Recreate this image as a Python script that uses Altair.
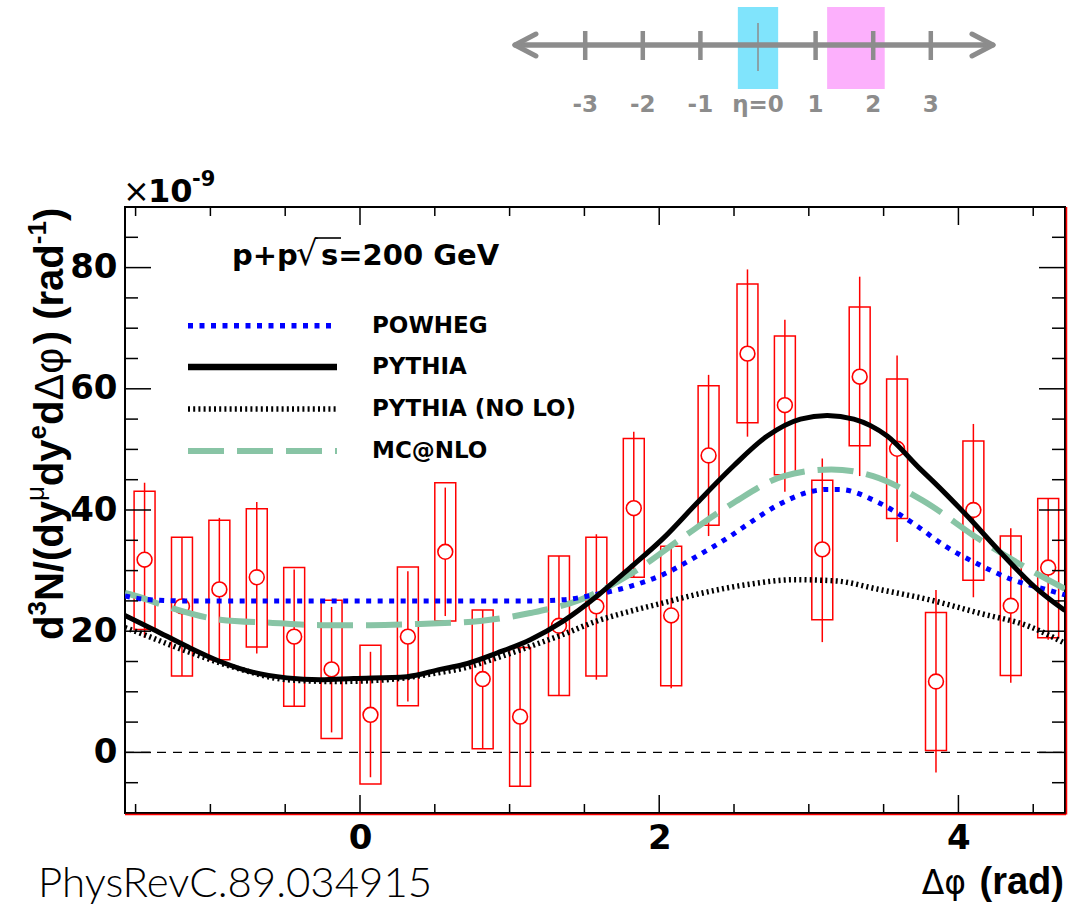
import math
import altair as alt
import pandas as pd

PI = math.pi

# ---------------- data ----------------
phi = [-1.44, -1.19, -0.94, -0.69, -0.44, -0.19, 0.07, 0.32, 0.57, 0.82, 1.07, 1.33, 1.58,
       1.83, 2.08, 2.33, 2.59, 2.84, 3.09, 3.34, 3.59, 3.85, 4.10, 4.35, 4.60]
val = [31.8, 24.1, 26.9, 28.9, 19.1, 13.7, 6.2, 19.1, 33.1, 12.1, 5.9, 20.9, 24.1,
       40.3, 22.6, 49.0, 65.8, 57.3, 33.5, 62.0, 50.1, 11.7, 40.0, 24.2, 30.5]
sys_lo = [20.3, 12.6, 15.3, 17.4, 7.6, 2.3, -5.2, 7.7, 21.7, 0.6, -5.6, 9.4, 12.6,
          28.9, 11.0, 37.5, 54.4, 45.8, 21.9, 50.6, 38.6, 0.3, 28.4, 12.7, 18.9]
sys_hi = [43.1, 35.5, 38.3, 40.2, 30.5, 25.1, 17.7, 30.6, 44.5, 23.5, 17.3, 32.4, 35.5,
          51.8, 34.0, 60.5, 77.3, 68.7, 44.9, 73.5, 61.6, 23.1, 51.4, 35.7, 41.9]
stat_lo = [18.9, 12.6, 15.3, 16.3, 7.6, 3.3, -4.1, 8.4, 22.5, 0.6, -5.6, 9.4, 12.0,
           28.9, 10.6, 35.7, 52.1, 43.0, 18.2, 45.6, 34.7, -3.3, 25.6, 11.5, 18.6]
stat_hi = [44.5, 35.5, 38.7, 41.3, 30.2, 24.0, 16.6, 29.9, 43.7, 23.5, 17.3, 32.4, 36.0,
           52.9, 34.4, 62.3, 79.7, 71.4, 48.5, 78.5, 65.5, 26.8, 54.2, 37.0, 42.0]

pythia_x = [-1.571, -1.381, -1.158, -0.935, -0.712, -0.489, -0.266, -0.043, 0.313, 0.536,
            0.692, 0.916, 1.138, 1.361, 1.585, 1.807, 2.030, 2.254, 2.498, 2.722, 2.944,
            3.123, 3.301, 3.524, 3.747, 3.836, 4.059, 4.282, 4.505, 4.712]
pythia_y = [22.6, 20.3, 17.5, 15.0, 13.2, 12.3, 12.0, 12.2, 12.5, 13.7,
            14.5, 16.4, 18.6, 21.7, 25.8, 30.5, 35.4, 41.2, 47.3, 52.2, 55.0,
            55.6, 55.0, 52.2, 46.7, 44.6, 39.0, 33.0, 27.4, 23.4]

powheg_x = [-1.571, -1.45, -1.2, -0.8, -0.4, 0.0, 0.4, 0.8, 1.138, 1.361, 1.585, 1.807,
            2.030, 2.254, 2.476, 2.577, 2.799, 3.023, 3.123, 3.201, 3.468, 3.692, 3.914,
            4.137, 4.360, 4.583, 4.712]
powheg_y = [25.8, 25.3, 25.0, 25.0, 25.0, 25.0, 25.0, 25.0, 25.0, 25.2, 26.1, 27.4,
            29.4, 32.4, 35.7, 37.4, 40.9, 43.1, 43.4, 43.4, 41.2, 37.9, 34.0,
            31.0, 28.5, 26.9, 26.0]

mcnlo_x = [-1.571, -1.537, -1.27, -0.935, -0.601, -0.266, 0.068, 0.403, 0.804, 1.138,
           1.473, 1.807, 2.141, 2.498, 2.833, 3.15, 3.43, 3.76, 4.137, 4.472, 4.712]
mcnlo_y = [26.3, 26.1, 23.9, 21.9, 21.4, 21.0, 21.0, 21.2, 21.7, 23.0,
           25.2, 29.4, 35.2, 41.2, 45.6, 46.7, 45.6, 41.6, 35.2, 30.2, 27.0]

nolo_x = [-1.571, -1.537, -1.158, -0.823, -0.489, -0.155, 0.18, 0.514, 0.692, 0.916,
          1.138, 1.361, 1.585, 1.807, 2.030, 2.254, 2.588, 2.911, 3.179, 3.468, 3.803,
          4.137, 4.472, 4.712]
nolo_y = [20.6, 20.3, 16.7, 13.9, 12.0, 11.7, 12.0, 13.1, 13.9, 15.6,
          17.5, 19.5, 21.7, 23.3, 24.7, 26.1, 27.7, 28.5, 28.3, 26.9, 25.2,
          23.0, 20.8, 18.0]

x_major = [0, 2, 4]
x_minor = [-1.5, -1.0, -0.5, 0.5, 1.0, 1.5, 2.5, 3.0, 3.5, 4.5]
y_major = [0, 20, 40, 60, 80]
y_minor = [-5, 5, 10, 15, 25, 30, 35, 45, 50, 55, 65, 70, 75, 85]

legend_names = ["POWHEG", "PYTHIA", "PYTHIA (NO LO)", "MC@NLO"]

# inset (rapidity axis) values
eta_ticks = [-3, -2, -1, 1, 2, 3]
eta_labels = ["-3", "-2", "-1", "η=0", "1", "2", "3"]
eta_label_pos = [-3, -2, -1, 0, 1, 2, 3]
eta_central = [-0.35, 0.35]
eta_forward = [1.2, 2.2]
eta_arrow = [-4.22, 4.08]

# ---------------- layout ----------------
W, H = 940, 606
PADL, PADT = 125, 207
FONT = "DejaVu Sans"
HFONT = "Liberation Sans"

xs = alt.Scale(domain=[-PI / 2, 3 * PI / 2], nice=False, zero=False)
ys = alt.Scale(domain=[-10, 90], nice=False, zero=False)
AX = alt.Axis(values=x_major, ticks=False, tickSize=0, domain=False, grid=False, title=None,
              labelPadding=8, format="d")
AY = alt.Axis(values=y_major, ticks=False, tickSize=0, domain=False, grid=False, title=None,
              labelPadding=8, format="d")


def X(field):
    return alt.X(field, type="quantitative", scale=xs, axis=AX)


def Y(field):
    return alt.Y(field, type="quantitative", scale=ys, axis=AY)


def txt(text, x, y, size, weight="bold", font=FONT, align="left", baseline="alphabetic",
        angle=0, color="black"):
    return alt.Chart(pd.DataFrame({"t": [text]})).mark_text(
        align=align, baseline=baseline, font=font, fontSize=size, fontWeight=weight,
        angle=angle, color=color
    ).encode(text="t:N", x=alt.value(x), y=alt.value(y))


pts = pd.DataFrame(dict(phi=phi, val=val, slo=sys_lo, shi=sys_hi, elo=stat_lo, ehi=stat_hi))

layers = []

# zero line
layers.append(
    alt.Chart(pd.DataFrame({"z": [0]})).mark_rule(color="black", strokeWidth=1.2, strokeDash=[9, 7])
    .encode(y=Y("z"), x=alt.value(0), x2=alt.value(W))
)

# systematic boxes
layers.append(
    alt.Chart(pts).transform_calculate(xa="datum.phi - 0.07", xb="datum.phi + 0.07")
    .mark_rect(fill="white", fillOpacity=0, stroke="#ff0000", strokeWidth=1.5)
    .encode(x=X("xa"), x2="xb:Q", y=Y("slo"), y2="shi:Q")
)
# statistical bars
layers.append(
    alt.Chart(pts).mark_rule(color="#ff0000", strokeWidth=1.5)
    .encode(x=X("phi"), y=Y("elo"), y2="ehi:Q")
)
# markers
layers.append(
    alt.Chart(pts).mark_point(shape="circle", size=220, fill="white", fillOpacity=1, stroke="#ff0000",
                              strokeWidth=1.6, opacity=1)
    .encode(x=X("phi"), y=Y("val"))
)

# curves
styles = {
    "MC@NLO": dict(color="#88c4a5", strokeWidth=6, strokeDash=[36, 13]),
    "PYTHIA (NO LO)": dict(color="black", strokeWidth=5.5, strokeDash=[2, 3.2]),
    "POWHEG": dict(color="#0000ff", strokeWidth=5, strokeDash=[5, 6.5]),
    "PYTHIA": dict(color="black", strokeWidth=5),
}
curves = {
    "MC@NLO": (mcnlo_x, mcnlo_y),
    "PYTHIA (NO LO)": (nolo_x, nolo_y),
    "POWHEG": (powheg_x, powheg_y),
    "PYTHIA": (pythia_x, pythia_y),
}
for name, (cx, cy) in curves.items():
    df = pd.DataFrame({"x": cx, "y": cy})
    layers.append(
        alt.Chart(df).mark_line(interpolate="monotone", clip=True, **styles[name])
        .encode(x=X("x"), y=Y("y"), order="x:Q")
    )


# tick marks (inward, on all four sides)
def xticks(vals, length):
    d = pd.DataFrame({"t": vals})
    b = alt.Chart(d).mark_rule(color="black", strokeWidth=1.5).encode(
        x=X("t"), y=alt.value(H), y2=alt.value(H - length))
    t = alt.Chart(d).mark_rule(color="black", strokeWidth=1.5).encode(
        x=X("t"), y=alt.value(0), y2=alt.value(length))
    return [b, t]


def yticks(vals, length):
    d = pd.DataFrame({"t": vals})
    l = alt.Chart(d).mark_rule(color="black", strokeWidth=1.5).encode(
        y=Y("t"), x=alt.value(0), x2=alt.value(length))
    r = alt.Chart(d).mark_rule(color="black", strokeWidth=1.5).encode(
        y=Y("t"), x=alt.value(W), x2=alt.value(W - length))
    return [l, r]


layers += xticks(x_major, 18) + xticks(x_minor, 9) + yticks(y_major, 26) + yticks(y_minor, 13)

# red bottom/right edges
layers.append(alt.Chart(pd.DataFrame({"a": [0]})).mark_rule(color="#ff0000", strokeWidth=1.5)
              .encode(x=alt.value(0), x2=alt.value(W + 1), y=alt.value(H + 1.5)))
layers.append(alt.Chart(pd.DataFrame({"a": [0]})).mark_rule(color="#ff0000", strokeWidth=1.5)
              .encode(x=alt.value(W + 1.5), y=alt.value(0), y2=alt.value(H + 1.5)))

# legend (manual, ROOT style)
leg_y = [325.7 - PADT, 367 - PADT, 409 - PADT, 451 - PADT]
leg_styles = {
    "POWHEG": dict(color="#0000ff", strokeWidth=5.5, strokeDash=[5, 6.5]),
    "PYTHIA": dict(color="black", strokeWidth=6.5),
    "PYTHIA (NO LO)": dict(color="black", strokeWidth=5.5, strokeDash=[2, 3.2]),
    "MC@NLO": dict(color="#88c4a5", strokeWidth=6, strokeDash=[36, 13]),
}
for name, yy in zip(legend_names, leg_y):
    layers.append(alt.Chart(pd.DataFrame({"a": [0]})).mark_rule(**leg_styles[name])
                  .encode(x=alt.value(188 - PADL), x2=alt.value(337 - PADL), y=alt.value(yy)))
    layers.append(txt(name, 372 - PADL, yy, 23, baseline="middle"))

# p+p sqrt(s) label
layers.append(txt("p+p", 232 - PADL, 265 - PADT, 29))
layers.append(txt("√", 296 - PADL, 265 - PADT, 34, weight="normal"))
layers.append(alt.Chart(pd.DataFrame({"a": [0]})).mark_rule(color="black", strokeWidth=1.6)
              .encode(x=alt.value(315 - PADL), x2=alt.value(341 - PADL), y=alt.value(238 - PADT)))
layers.append(txt("s=200 GeV", 321 - PADL, 265 - PADT, 29))

# x10^-9
layers.append(txt("×", 123 - PADL, 202 - PADT, 32, weight="normal"))
layers.append(txt("10", 148 - PADL, 202 - PADT, 32))
layers.append(txt("-9", 192 - PADL, 186 - PADT, 21))

# y title built from pieces (rotated), Helvetica-like bold
bw = {"d": .611, "N": .722, "/": .278, "(": .333, "y": .556, ")": .333, " ": .278, "r": .389,
      "a": .556, "e": .556, "-": .333, "1": .556, "3": .556, "μ": .576, "Δ": .668, "φ": .74}
F, S = 40, 26
pieces = [("d", F, "bold", 0), ("3", S, "bold", 17), ("N/(dy", F, "bold", 0),
          ("μ", S, "normal", 19), ("dy", F, "bold", 0), ("e", S, "bold", 17),
          ("d", F, "bold", 0), ("Δφ", F, "normal", 0), (") (rad", F, "bold", 0),
          ("-1", S, "bold", 17), (")", F, "bold", 0)]
ypos = 640 - PADT
xbase = 63 - PADL
for text, size, weight, raise_ in pieces:
    layers.append(txt(text, xbase - raise_, ypos, size, weight=weight, font=HFONT, angle=270))
    ypos -= sum(bw[c] for c in text) * size

# x title
layers.append(txt("(rad)", 1064 - PADL, 894 - PADT, 38, font=HFONT, align="right"))
layers.append(txt("Δφ", 966 - PADL, 894 - PADT, 33, weight="normal", align="right"))

# reference
layers.append(txt("PhysRevC.89.034915", 38 - PADL, 897 - PADT, 42, weight=300, font="Lato"))

main = alt.layer(*layers)

# ---------------- inset: rapidity schematic ----------------
# eta scale: eta=0 at page x 758, 57.6 px per unit
ea = -(758 - PADL) / 57.6
eb = ea + W / 57.6
es = alt.Scale(domain=[ea, eb], nice=False, zero=False)
# v scale: v=0 at page y 45, 20 px per unit (extrapolated above the plot)
vd1 = -(PADT - 45) / 20.0
vd0 = vd1 - H / 20.0
vs = alt.Scale(domain=[vd0, vd1], nice=False, zero=False)
GREY = "#8c8c8c"


def EX(f):
    return alt.X(f, type="quantitative", scale=es, axis=None)


def EY(f):
    return alt.Y(f, type="quantitative", scale=vs, axis=None)


boxes_df = pd.DataFrame({"e1": [eta_central[0], eta_forward[0]], "e2": [eta_central[1], eta_forward[1]],
                         "v1": [-2.2, -2.2], "v2": [1.9, 1.9], "c": ["#80e4fc", "#fcb0fc"]})
inset_layers = [
    alt.Chart(boxes_df).mark_rect().encode(x=EX("e1"), x2="e2:Q", y=EY("v1"), y2="v2:Q",
                                           color=alt.Color("c:N", scale=None)),
    alt.Chart(pd.DataFrame({"e1": [eta_arrow[0]], "e2": [eta_arrow[1]], "v": [0.0]}))
    .mark_rule(color=GREY, strokeWidth=5.5).encode(x=EX("e1"), x2="e2:Q", y=EY("v")),
]
arms = pd.DataFrame({
    "e1": [eta_arrow[0], eta_arrow[0], eta_arrow[1], eta_arrow[1]],
    "e2": [eta_arrow[0] + 0.365, eta_arrow[0] + 0.365, eta_arrow[1] - 0.365, eta_arrow[1] - 0.365],
    "v1": [0, 0, 0, 0], "v2": [0.55, -0.55, 0.55, -0.55]})
inset_layers.append(alt.Chart(arms).mark_rule(color=GREY, strokeWidth=5, strokeCap="round")
                    .encode(x=EX("e1"), x2="e2:Q", y=EY("v1"), y2="v2:Q"))
inset_layers.append(alt.Chart(pd.DataFrame({"e": eta_ticks})).mark_rule(color=GREY, strokeWidth=4.5)
                    .encode(x=EX("e"), y=alt.Y(datum=-0.75, scale=vs, axis=None), y2=alt.datum(0.7)))
inset_layers.append(alt.Chart(pd.DataFrame({"e": [0]})).mark_rule(color=GREY, strokeWidth=1.5)
                    .encode(x=EX("e"), y=alt.Y(datum=-1.3, scale=vs, axis=None), y2=alt.datum(1.1)))
inset_layers.append(alt.Chart(pd.DataFrame({"e": eta_label_pos, "t": eta_labels, "v": [-3.0] * 7}))
                    .mark_text(font=FONT, fontWeight="bold", fontSize=23, color=GREY, baseline="middle")
                    .encode(x=EX("e"), y=EY("v"), text="t:N"))

inset = alt.layer(*inset_layers)

chart = alt.layer(main, inset).resolve_scale(x="independent", y="independent").properties(
    width=W, height=H,
    autosize=alt.AutoSizeParams(type="none"),
    padding={"left": PADL, "top": PADT, "right": 1075 - PADL - W, "bottom": 908 - PADT - H},
).configure_view(stroke="black", strokeWidth=2).configure_axis(
    labelFont=FONT, labelFontWeight="bold", labelFontSize=34, labelColor="black"
)

chart.save("out.html", embed_options={"renderer": "svg", "actions": False})
